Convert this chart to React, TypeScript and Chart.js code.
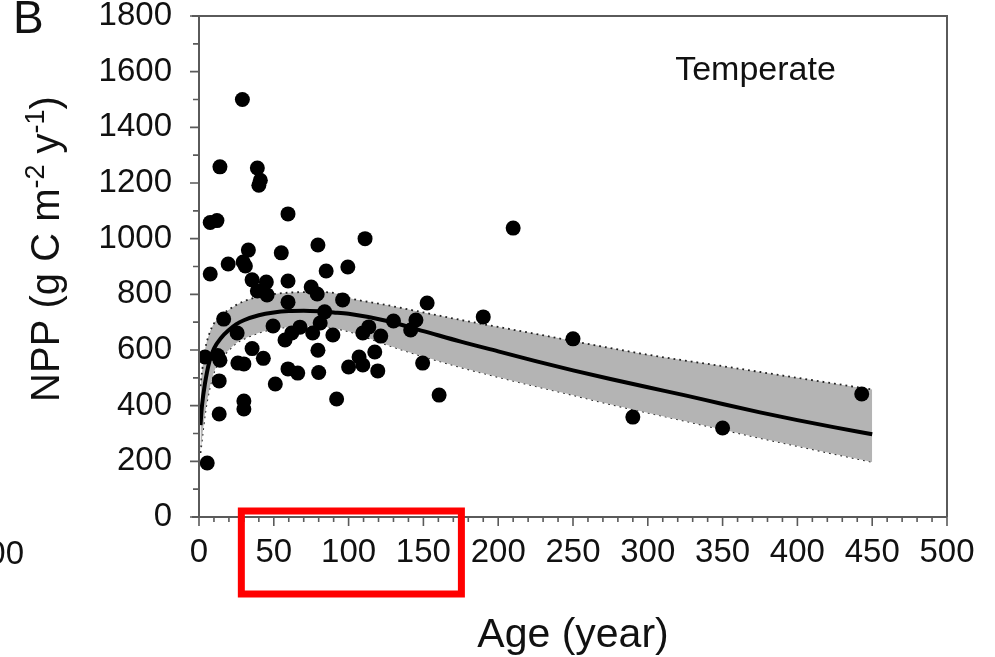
import React, { useEffect, useRef } from "react";
import { Chart, registerables } from "chart.js";
Chart.register(...registerables);

// ---- data ----
const pointAge = [
  29, 14, 39, 41, 40, 7.5, 12, 59.5, 79.5, 33,
  29.5, 31, 19.5, 55, 7.5, 85, 35.5, 45, 39, 45.5,
  59.5, 75, 79, 59.5, 111, 99.5, 96, 16.5, 84, 49.5,
  67.5, 81, 25.5, 62, 57.5, 76, 89.5, 4, 12.5, 14,
  26, 30, 35.5, 43, 79.5, 59.5, 66, 80, 13.5, 51,
  30, 30, 13.5, 5.5, 92, 113.5, 109.5, 121.5, 130, 145,
  141.5, 152.5, 100, 107, 109.5, 117.5, 119.5, 149.5, 160.5, 210,
  190, 250, 290, 350, 443,
];
const pointNPP = [
  1500, 1258, 1254, 1210, 1192, 1058, 1065, 1089, 977, 959,
  916, 902, 909, 949, 873, 884, 852, 844, 812, 798,
  848, 826, 801, 772, 1000, 898, 780, 711, 737, 686,
  682, 697, 661, 661, 636, 661, 654, 575, 580, 563,
  553, 550, 605, 570, 599, 532, 517, 519, 489, 478,
  417, 388, 370, 194, 424, 683, 661, 650, 704, 708,
  672, 769, 539, 575, 546, 593, 525, 553, 438, 1038,
  719, 640, 359, 320, 442,
];

const curveAge = [1, 2, 4, 7, 10, 15, 20, 25, 30, 40, 50, 60, 70, 80, 90, 100, 125, 150, 175, 200, 225, 250, 275, 300, 325, 350, 375, 400, 425, 450];
const curveNPP = [330, 400, 480, 560, 605, 645, 672, 693, 707, 725, 735, 740, 741, 739, 735, 730, 705, 668, 630, 595, 560, 527, 496, 466, 437, 406, 376, 348, 322, 297];
const upperNPP = [470, 520, 600, 660, 695, 725, 745, 762, 775, 792, 801, 806, 808, 808, 805, 787, 762, 735, 708, 683, 658, 632, 607, 583, 562, 542, 521, 500, 479, 458];
const lowerNPP = [230, 280, 370, 460, 520, 570, 600, 625, 640, 662, 676, 683, 686, 685, 678, 667, 620, 577, 538, 503, 470, 438, 405, 375, 345, 314, 284, 255, 226, 198];

const xTickStep = 50;
const xMinorStep = 10;
const yTickStep = 200;
const yMinorStep = 100;
const xMax = 500;
const yMax = 1800;

const panelLetter = "B";
const panelLabel = "Temperate";
const xTitle = "Age (year)";

const FONT = "'Liberation Sans', Arial, sans-serif";

const decor = {
  id: "decor",
  afterDraw(chart: any) {
    const { ctx, chartArea: a, scales } = chart;
    const x = scales.x;
    const y = scales.y;
    ctx.save();
    // frame + axes
    ctx.strokeStyle = "#5a5a5a";
    ctx.lineWidth = 2;
    ctx.beginPath();
    ctx.moveTo(a.left - 7, a.top);
    ctx.lineTo(a.right, a.top);
    ctx.lineTo(a.right, a.bottom);
    ctx.moveTo(a.left - 7, a.bottom);
    ctx.lineTo(a.right, a.bottom);
    ctx.moveTo(a.left, a.top);
    ctx.lineTo(a.left, a.bottom);
    ctx.stroke();
    // ticks
    ctx.lineWidth = 1.6;
    ctx.beginPath();
    for (let v = 0; v <= yMax; v += yMinorStep) {
      const py = y.getPixelForValue(v);
      const len = v % yTickStep === 0 ? 9 : 6;
      ctx.moveTo(a.left - len, py);
      ctx.lineTo(a.left, py);
    }
    for (let v = 0; v <= xMax; v += xMinorStep) {
      const px = x.getPixelForValue(v);
      const len = v % xTickStep === 0 ? 9 : 5;
      ctx.moveTo(px, a.bottom);
      ctx.lineTo(px, a.bottom + len);
    }
    ctx.stroke();

    // texts
    ctx.fillStyle = "#111";
    ctx.textBaseline = "alphabetic";
    ctx.textAlign = "center";
    ctx.font = `34px ${FONT}`;
    ctx.fillText(panelLabel, x.getPixelForValue(372), y.getPixelForValue(1613) + 12);

    ctx.font = `41px ${FONT}`;
    ctx.fillText(xTitle, 573, 647);

    ctx.textAlign = "left";
    ctx.font = `46px ${FONT}`;
    ctx.fillText(panelLetter, 13, 33);

    ctx.textAlign = "right";
    ctx.font = `33px ${FONT}`;
    ctx.fillText("500", 24, 564);

    // y title, rotated
    ctx.save();
    ctx.translate(45, 249);
    ctx.rotate(-Math.PI / 2);
    const big = `40px ${FONT}`;
    const small = `27px ${FONT}`;
    const segs = [
      { t: "NPP (g C m", f: big, dy: 0 },
      { t: "-2", f: small, dy: -15 },
      { t: " y", f: big, dy: 0 },
      { t: "-1", f: small, dy: -15 },
      { t: ")", f: big, dy: 0 },
    ];
    let total = 0;
    for (const s of segs) {
      ctx.font = s.f;
      total += ctx.measureText(s.t).width;
    }
    let cx = -total / 2;
    ctx.textAlign = "left";
    for (const s of segs) {
      ctx.font = s.f;
      ctx.fillText(s.t, cx, 14 + s.dy);
      cx += ctx.measureText(s.t).width;
    }
    ctx.restore();

    // red highlight box
    ctx.strokeStyle = "#ff0000";
    ctx.lineWidth = 7;
    const l = x.getPixelForValue(28.3);
    const r = x.getPixelForValue(175.4);
    ctx.strokeRect(l, a.bottom - 6, r - l, 83);
    ctx.restore();
  },
};

export default function App() {
  const ref = useRef<HTMLCanvasElement | null>(null);
  useEffect(() => {
    if (!ref.current) return;
    const pts = pointAge.map((v, i) => ({ x: v, y: pointNPP[i] }));
    const cur = curveAge.map((v, i) => ({ x: v, y: curveNPP[i] }));
    const up = curveAge.map((v, i) => ({ x: v, y: upperNPP[i] }));
    const lo = curveAge.map((v, i) => ({ x: v, y: lowerNPP[i] }));
    const tickFont = { family: FONT, size: 33, lineHeight: 1.2 };
    const plain = (v: any) => String(v);
    const chart = new Chart(ref.current, {
      type: "scatter",
      data: {
        datasets: [
          {
            data: pts,
            backgroundColor: "#000",
            borderColor: "#000",
            pointRadius: 7.5,
            pointBorderWidth: 0,
            showLine: false,
            order: 0,
          },
          {
            data: cur,
            showLine: true,
            borderColor: "#000",
            borderWidth: 4,
            pointRadius: 0,
            cubicInterpolationMode: "monotone",
            fill: false,
            order: 1,
          },
          {
            data: up,
            showLine: true,
            borderColor: "#222",
            borderWidth: 1.8,
            borderDash: [1.8, 4],
            pointRadius: 0,
            cubicInterpolationMode: "monotone",
            backgroundColor: "#b4b4b4",
            fill: "+1",
            order: 2,
          },
          {
            data: lo,
            showLine: true,
            borderColor: "#222",
            borderWidth: 1.8,
            borderDash: [1.8, 4],
            pointRadius: 0,
            cubicInterpolationMode: "monotone",
            fill: false,
            order: 3,
          },
        ],
      },
      options: {
        animation: false,
        responsive: false,
        events: [],
        layout: { padding: { left: 0, top: 16, right: 48, bottom: 0 } },
        plugins: { legend: { display: false }, tooltip: { enabled: false } },
        scales: {
          x: {
            type: "linear",
            min: 0,
            max: xMax,
            grid: { display: false, drawTicks: false },
            border: { display: false },
            ticks: {
              stepSize: xTickStep,
              autoSkip: false,
              maxRotation: 0,
              padding: 16,
              color: "#111",
              font: tickFont,
              callback: plain,
            },
            afterFit(s: any) {
              s.height = 140;
              s.paddingLeft = 0;
              s.paddingRight = 0;
            },
          },
          y: {
            type: "linear",
            min: 0,
            max: yMax,
            grid: { display: false, drawTicks: false },
            border: { display: false },
            ticks: {
              stepSize: yTickStep,
              autoSkip: false,
              padding: 27,
              color: "#111",
              font: tickFont,
              callback: plain,
            },
            afterFit(s: any) {
              s.width = 199;
              s.paddingTop = 0;
              s.paddingBottom = 0;
            },
          },
        },
      },
      plugins: [decor],
    });
    return () => chart.destroy();
  }, []);
  return (
    <div style={{ position: "absolute", left: 0, top: 0, width: 995, height: 657, background: "#fff" }}>
      <canvas ref={ref} width={995} height={657} style={{ display: "block" }} />
    </div>
  );
}
